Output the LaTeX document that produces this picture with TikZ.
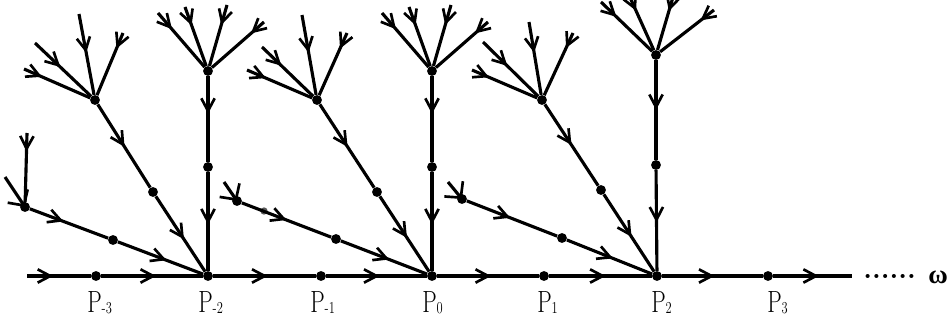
\documentclass[tikz,border=0pt]{standalone}
\usepackage{fontspec}
\newfontfamily\omegafont{Liberation Serif}
\usetikzlibrary{arrows.meta,decorations.markings}
\newcommand\plbl[1]{\scalebox{0.75}[1]{\fontsize{23}{23}\selectfont P\raisebox{-1pt}{\fontsize{12.5}{12.5}\selectfont #1}}}
\tikzset{
  ln/.style={line width=2.35pt},
  dot/.style={circle, fill=black, inner sep=0pt, minimum size=7.4pt},
  arr/.style={postaction={decorate}, decoration={markings, mark=at position #1 with {\arrow{Straight Barb[length=9.5pt,width=10pt,line width=2pt]}}}},
  stubarr/.style={-{Straight Barb[length=8.5pt,width=18pt,line width=2pt]}},
  plab/.style={anchor=base west, inner sep=0pt},
}
\begin{document}
\begin{tikzpicture}[x=0.75pt,y=-0.75pt]
\useasboundingbox (0,0) rectangle (949,321);
\clip (0,0) rectangle (949,321);
% baseline points
\coordinate (s) at (27,276);
\coordinate (e) at (852,276);
\node[dot] (pm3) at (96,276) {};
\node[dot] (pm2) at (208,276) {};
\node[dot] (pm1) at (321,276) {};
\node[dot] (p0) at (432,276) {};
\node[dot] (p1) at (544,276) {};
\node[dot] (p2) at (657,276) {};
\node[dot] (p3) at (768,276) {};
\draw[ln,arr=0.41] (s) -- (pm3);
\draw[ln,arr=0.54] (pm3) -- (pm2);
\draw[ln,arr=0.53] (pm2) -- (pm1);
\draw[ln,arr=0.53] (pm1) -- (p0);
\draw[ln,arr=0.53] (p0) -- (p1);
\draw[ln,arr=0.55] (p1) -- (p2);
\draw[ln,arr=0.52] (p2) -- (p3);
\draw[ln,arr=0.58] (p3) -- (e);
% labels
\node[plab] (lm3) at (87,312) {\plbl{-3}};
\node[plab] (lm2) at (198,312) {\plbl{-2}};
\node[plab] (lm1) at (310,312) {\plbl{-1}};
\node[plab] (l0) at (422,312) {\plbl{0}};
\node[plab] (l1) at (537,312) {\plbl{1}};
\node[plab] (l2) at (651,312) {\plbl{2}};
\node[plab] (l3) at (767,312) {\plbl{3}};
\node[plab] (dd) at (863,278.5) {\bfseries\fontsize{21}{21}\selectfont ......};
\node[plab] (om) at (928,283) {\omegafont\bfseries\fontsize{20}{20}\selectfont ω};
% vertical lines
\node[dot] (v1) at (208,167) {};
\node[dot] (t1) at (208,71) {};
\node[dot] (v2) at (432,167) {};
\node[dot] (t2) at (432,71) {};
\node[dot] (v3) at (656,165) {};
\node[dot] (t3) at (656,55) {};
\draw[ln,arr=0.44] (t1) -- (v1);
\draw[ln,arr=0.53] (v1) -- (pm2);
\draw[ln,arr=0.44] (t2) -- (v2);
\draw[ln,arr=0.53] (v2) -- (p0);
\draw[ln,arr=0.5] (t3) -- (v3);
\draw[ln,arr=0.52] (v3) -- (p2);
% steep lines
\node[dot] (a1) at (95,100) {};
\node[dot] (d1) at (153,192) {};
\node[dot] (a2) at (317,100) {};
\node[dot] (d2) at (377,192) {};
\node[dot] (a3) at (542,100) {};
\node[dot] (d3) at (601,190) {};
\draw[ln,arr=0.51] (a1) -- (d1);
\draw[ln,arr=0.57] (d1) -- (pm2);
\draw[ln,arr=0.51] (a2) -- (d2);
\draw[ln,arr=0.55] (d2) -- (p0);
\draw[ln,arr=0.5] (a3) -- (d3);
\draw[ln,arr=0.55] (d3) -- (p2);
% shallow lines
\node[dot] (b1) at (25,207) {};
\node[dot] (c1) at (113,240) {};
\node[dot] (b2) at (237,201) {};
\node[dot] (c2) at (336,239) {};
\node[dot] (b3) at (462,199) {};
\node[dot] (c3) at (562,238) {};
\node[dot, fill=black!65, minimum size=5.5pt] (g) at (264,211) {};
\draw[ln,arr=0.43] (b1) -- (c1);
\draw[ln,arr=0.57] (c1) -- (pm2);
\draw[ln,arr=0.5] (b2) -- (c2);
\draw[ln,arr=0.56] (c2) -- (p0);
\draw[ln,arr=0.48] (b3) -- (c3);
\draw[ln,arr=0.54] (c3) -- (p2);
% stubs at shallow nodes
\coordinate (sb1) at (5,177);
\coordinate (sb2) at (224,182);
\coordinate (sb3) at (448,182);
\draw[ln,stubarr] (sb1) -- (b1.center);
\draw[ln,stubarr] (sb2) -- (b2.center);
\draw[ln,stubarr] (sb3) -- (b3.center);
\coordinate (b1u) at (27,133);
\draw[ln,arr=0.27] (b1u) -- (b1);
% trees at steep nodes
\coordinate (a1u) at (79,14);
\coordinate (a1r) at (123,33);
\coordinate (a1ul) at (35,43);
\coordinate (a1l) at (24,69);
\draw[ln,arr=0.48] (a1u) -- (a1);
\draw[ln,arr=0.25] (a1r) -- (a1);
\draw[ln,arr=0.45] (a1ul) -- (a1);
\draw[ln,arr=0.27] (a1l) -- (a1);
\coordinate (a2u) at (302,15);
\coordinate (a2r) at (347,33);
\coordinate (a2ul) at (262,47);
\coordinate (a2l) at (247,70);
\draw[ln,arr=0.47] (a2u) -- (a2);
\draw[ln,arr=0.25] (a2r) -- (a2);
\draw[ln,arr=0.38] (a2ul) -- (a2);
\draw[ln,arr=0.29] (a2l) -- (a2);
\coordinate (a3u) at (529,22);
\coordinate (a3r) at (573,33);
\coordinate (a3ul) at (483,42);
\coordinate (a3l) at (472,70);
\draw[ln,arr=0.42] (a3u) -- (a3);
\draw[ln,arr=0.24] (a3r) -- (a3);
\draw[ln,arr=0.44] (a3ul) -- (a3);
\draw[ln,arr=0.26] (a3l) -- (a3);
% trees at vertical tops
\coordinate (t1fl) at (158,13);
\coordinate (t1ul) at (185,7);
\coordinate (t1ur) at (227,5);
\coordinate (t1r) at (264,22);
\draw[ln,arr=0.3] (t1fl) -- (t1);
\draw[ln,arr=0.31] (t1ul) -- (t1);
\draw[ln,arr=0.33] (t1ur) -- (t1);
\draw[ln,arr=0.25] (t1r) -- (t1);
\coordinate (t2fl) at (382,13);
\coordinate (t2ul) at (409,7);
\coordinate (t2ur) at (451,5);
\coordinate (t2r) at (488,22);
\draw[ln,arr=0.3] (t2fl) -- (t2);
\draw[ln,arr=0.31] (t2ul) -- (t2);
\draw[ln,arr=0.33] (t2ur) -- (t2);
\draw[ln,arr=0.25] (t2r) -- (t2);
\coordinate (t3fl) at (601,2);
\coordinate (t3ul) at (628,-7);
\coordinate (t3ur) at (674.5,-8);
\coordinate (t3r) at (714,10);
\draw[ln,arr=0.3] (t3fl) -- (t3);
\draw[ln,arr=0.31] (t3ul) -- (t3);
\draw[ln,arr=0.33] (t3ur) -- (t3);
\draw[ln,arr=0.25] (t3r) -- (t3);
\end{tikzpicture}
\end{document}
